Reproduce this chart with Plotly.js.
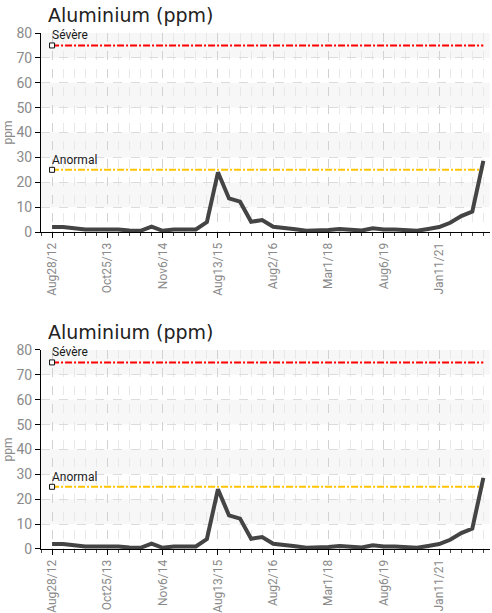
<!DOCTYPE html>
<html>
<head>
<meta charset="utf-8">
<script src="https://cdn.plot.ly/plotly-3.0.1.min.js"></script>
<style>html,body{margin:0;padding:0;background:#fff;}#chart{width:492px;height:613px;}</style>
</head>
<body>
<div id="chart"></div>
<script>
// ---- data ----
const chartTitle = "Aluminium (ppm)";
const yTitle = "ppm";
const sampleIndex = Array.from({length: 40}, (_, i) => i);
const aluminium = [2, 2, 1.5, 1, 1, 1.2, 1, 0.6, 0.5, 2.2,
                   0.5, 1, 1, 1, 4, 24, 13.5, 12.2, 4.1, 4.8,
                   2.1, 1.7, 1.1, 0.5, 0.5, 0.8, 1.2, 0.8, 0.6, 1.5,
                   1, 1, 0.8, 0.5, 1.2, 2, 3.7, 6.4, 8.2, 28.6];
const tickIndex = [0, 5, 10, 15, 20, 25, 30, 35];
const tickLabels = ["Aug28/12", "Oct25/13", "Nov6/14", "Aug13/15", "Aug2/16", "Mar1/18", "Aug6/19", "Jan11/21"];
const limitNames = ["Sévère", "Anormal"];
const limitValues = [75, 25];
const limitColors = ["#ff0000", "#ffc400"];
const yTicks = [0, 10, 20, 30, 40, 50, 60, 70, 80];

// ---- build ----
const tickFamily = "Roboto, sans-serif";
const traces = [];
const panels = [{x: "x", y: "y"}, {x: "x2", y: "y2"}];
const firstX = sampleIndex[0], lastX = sampleIndex[sampleIndex.length - 1];
const annotations = [];
panels.forEach(p => {
  limitValues.forEach((v, k) => {
    traces.push({
      x: [firstX, lastX], y: [v, v], xaxis: p.x, yaxis: p.y, type: "scatter", mode: "lines",
      line: {color: limitColors[k], width: 2, dash: "7px,2px,2px,2px"}, hoverinfo: "skip"
    });
    traces.push({
      x: [firstX], y: [v], xaxis: p.x, yaxis: p.y, type: "scatter", mode: "markers",
      marker: {symbol: "square", size: 5, color: "#ffffff", line: {color: "#111", width: 1}},
      cliponaxis: false, hoverinfo: "skip"
    });
    annotations.push({
      text: limitNames[k], xref: p.x, yref: p.y, x: firstX, y: v, xanchor: "left", yanchor: "bottom",
      xshift: -2, yshift: 1, showarrow: false, font: {family: tickFamily, size: 12, color: "#1a1a1a"}
    });
  });
  traces.push({
    x: sampleIndex, y: aluminium, xaxis: p.x, yaxis: p.y, type: "scatter", mode: "lines",
    line: {color: "#444444", width: 4}, hoverinfo: "skip"
  });
});

function xax(anchor) {
  return {
    anchor: anchor, range: [-1, 39.6], showline: true, linecolor: "#000", linewidth: 1,
    tickmode: "array", tickvals: tickIndex, ticktext: tickLabels, tickangle: -90,
    ticks: "outside", ticklen: 5, tickcolor: "#000",
    tickfont: {family: tickFamily, size: 12, color: "#8a8a8a"},
    showgrid: true, gridcolor: "#d2d2d2", griddash: "dash", gridwidth: 1,
    minor: {dtick: 1, tick0: 0, ticks: "outside", ticklen: 3, tickcolor: "#444", showgrid: true, gridcolor: "#e8e8e8", griddash: "dash"},
    zeroline: false, fixedrange: true
  };
}
function yax(domain, anchor) {
  return {
    domain: domain, anchor: anchor, range: [0, 80], tickvals: yTicks,
    showline: true, linecolor: "#000", linewidth: 1,
    ticks: "outside", ticklen: 5, tickcolor: "#000",
    tickfont: {family: tickFamily, size: 14, color: "#8a8a8a"},
    showgrid: true, gridcolor: "#dcdcdc", griddash: "dash",
    zeroline: false, fixedrange: true,
    title: {text: yTitle, font: {family: tickFamily, size: 12, color: "#8a8a8a"}, standoff: 1}
  };
}

const shapes = [];
["y", "y2"].forEach(yr => {
  for (let i = yTicks.length - 1; i > 0; i -= 2) {
    shapes.push({type: "rect", xref: "paper", yref: yr, x0: 0, x1: 1, y0: yTicks[i - 1], y1: yTicks[i],
      fillcolor: "#f7f7f7", line: {width: 0}, layer: "below"});
  }
});

[1.035, 0.4205].forEach(yy => annotations.push({
  text: chartTitle, xref: "paper", yref: "paper", x: 0.011, y: yy, xanchor: "left", yanchor: "middle",
  showarrow: false, font: {family: "DejaVu Sans, sans-serif", size: 19, color: "#222"}
}));

const layout = {
  width: 492, height: 613, margin: {l: 41, r: 2, t: 33, b: 64},
  paper_bgcolor: "#fff", plot_bgcolor: "#fff", showlegend: false,
  xaxis: xax("y"), yaxis: yax([0.6143, 1], "x"),
  xaxis2: xax("y2"), yaxis2: yax([0, 0.3857], "x2"),
  shapes: shapes,
  annotations: annotations
};
Plotly.newPlot("chart", traces, layout, {displayModeBar: false, staticPlot: true});
</script>
</body>
</html>
